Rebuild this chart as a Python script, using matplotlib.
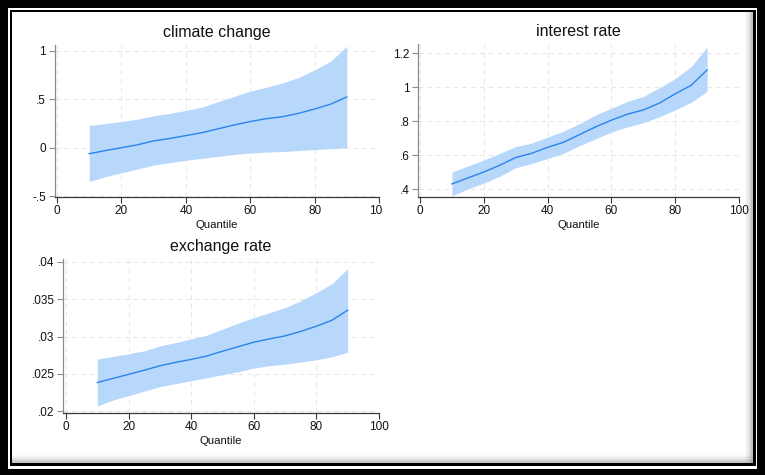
import matplotlib
matplotlib.use('Agg')
import matplotlib.pyplot as plt
from matplotlib.patches import Rectangle
from matplotlib.transforms import Bbox, TransformedBbox

plt.rcParams['font.family'] = ['Liberation Sans', 'DejaVu Sans']

# quantiles used for every panel
quantiles = [10, 15, 20, 25, 30, 35, 40, 45, 50, 55, 60, 65, 70, 75, 80, 85, 90]

# climate change
climate_mid = [-0.062, -0.03, 0.0, 0.03, 0.07, 0.095, 0.125, 0.155, 0.195, 0.235,
               0.27, 0.30, 0.32, 0.355, 0.40, 0.45, 0.525]
climate_hi = [0.23, 0.25, 0.27, 0.295, 0.33, 0.355, 0.385, 0.42, 0.475, 0.53,
              0.585, 0.625, 0.67, 0.725, 0.805, 0.895, 1.05]
climate_lo = [-0.35, -0.30, -0.26, -0.22, -0.18, -0.155, -0.13, -0.11, -0.09, -0.07,
              -0.055, -0.045, -0.04, -0.03, -0.02, -0.01, 0.0]

# interest rate
interest_mid = [0.43, 0.465, 0.50, 0.54, 0.585, 0.61, 0.645, 0.675, 0.72, 0.765,
                0.805, 0.84, 0.865, 0.905, 0.96, 1.01, 1.10]
interest_hi = [0.50, 0.535, 0.57, 0.61, 0.65, 0.67, 0.705, 0.74, 0.785, 0.835,
               0.875, 0.915, 0.945, 0.995, 1.05, 1.12, 1.235]
interest_lo = [0.36, 0.40, 0.435, 0.475, 0.525, 0.55, 0.58, 0.61, 0.655, 0.695,
               0.735, 0.765, 0.79, 0.825, 0.865, 0.91, 0.975]

# exchange rate
exchange_mid = [0.02385, 0.0244, 0.02495, 0.0255, 0.0261, 0.02655, 0.02695, 0.0274, 0.02805,
                0.02865, 0.02925, 0.0297, 0.0301, 0.0307, 0.0314, 0.0322, 0.03355]
exchange_hi = [0.0270, 0.02735, 0.0277, 0.0281, 0.02875, 0.0292, 0.0297, 0.0302, 0.0310,
               0.0318, 0.03255, 0.0332, 0.0339, 0.0348, 0.0359, 0.0371, 0.0391]
exchange_lo = [0.0207, 0.0215, 0.0221, 0.0227, 0.0233, 0.0237, 0.0241, 0.0245, 0.0249,
               0.0253, 0.0258, 0.0261, 0.0263, 0.0266, 0.0269, 0.0273, 0.0279]

x_ticks = [0, 20, 40, 60, 80, 100]
climate_ticks = [-0.5, 0, 0.5, 1]
climate_labels = ['-.5', '0', '.5', '1']
interest_ticks = [0.4, 0.6, 0.8, 1.0, 1.2]
interest_labels = ['.4', '.6', '.8', '1', '1.2']
exchange_ticks = [0.02, 0.025, 0.03, 0.035, 0.04]
exchange_labels = ['.02', '.025', '.03', '.035', '.04']

W, H = 765, 475
FILL = '#b7d7fb'
LINE = '#2a84ec'

fig = plt.figure(figsize=(W / 100, H / 100), dpi=100)
fig.patch.set_facecolor('black')


def px_rect(x0, y0, x1, y1, color, alpha=1.0, z=0):
    r = Rectangle((x0 / W, 1 - y1 / H), (x1 - x0) / W, (y1 - y0) / H,
                  transform=fig.transFigure, facecolor=color, edgecolor='none',
                  alpha=alpha, zorder=z)
    fig.add_artist(r)


# picture frame: white line, black line, white interior with soft shadow
px_rect(8, 8, 757, 469, 'white')
px_rect(9.5, 9.5, 755.5, 466, 'black')
px_rect(11.5, 11.5, 752.5, 463, 'white')
for i, a in enumerate([0.06, 0.1, 0.15, 0.22, 0.3, 0.4]):
    px_rect(745 + i * 1.2, 11.5, 752.5, 463, '#808080', alpha=a * 0.5)
    px_rect(11.5, 454 + i * 1.5, 752.5, 463, '#808080', alpha=a * 0.5)


def panel(box, xlim, ylim, mid, lo, hi, yticks, ylabels, title):
    x0, y0, x1, y1 = box
    ax = fig.add_axes([x0 / W, 1 - y1 / H, (x1 - x0) / W, (y1 - y0) / H])
    ax.set_facecolor('white')
    ax.fill_between(quantiles, lo, hi, color=FILL, linewidth=0, zorder=2)
    ax.plot(quantiles, mid, color=LINE, linewidth=1.0, zorder=3)
    ax.set_xlim(*xlim)
    ax.set_ylim(*ylim)
    ax.set_xticks(x_ticks)
    ax.set_yticks(yticks)
    ax.set_yticklabels(ylabels)
    ax.grid(True, linestyle=(0, (5, 4)), color='#e6e6e6', linewidth=0.7, zorder=1)
    ax.set_axisbelow(True)
    for s in ['top', 'right']:
        ax.spines[s].set_visible(False)
    ax.spines['left'].set_color('#8c8c8c')
    ax.spines['bottom'].set_color('#3a3a3a')
    ax.spines['left'].set_linewidth(0.9)
    ax.spines['bottom'].set_linewidth(0.9)
    ax.tick_params(axis='y', colors='#8c8c8c', labelcolor='#111111', length=4,
                   width=0.8, labelsize=8.5, pad=2)
    ax.tick_params(axis='x', colors='#3a3a3a', labelcolor='#111111', length=4,
                   width=0.8, labelsize=8.5, pad=2)
    ax.set_xlabel('Quantile', fontsize=8.2, labelpad=2, color='#111111')
    ax.set_title(title, fontsize=11.5, pad=6, color='#111111')
    return ax


ax1 = panel((54.5, 45, 379, 197), (-0.8, 100), (-0.51, 1.062),
            climate_mid, climate_lo, climate_hi, climate_ticks, climate_labels,
            'climate change')
ax2 = panel((418, 44, 739, 197), (-0.63, 100), (0.353, 1.253),
            interest_mid, interest_lo, interest_hi, interest_ticks, interest_labels,
            'interest rate')
ax3 = panel((63, 259, 379, 413), (-0.96, 100), (0.01977, 0.0404),
            exchange_mid, exchange_lo, exchange_hi, exchange_ticks, exchange_labels,
            'exchange rate')

# the first panel's "100" label is cut by its graph region in the original
clip = TransformedBbox(Bbox([[0, 0], [382 / W, 1]]), fig.transFigure)
for lab in ax1.get_xticklabels():
    lab.set_clip_on(True)
    lab.set_clip_box(clip)

fig.savefig('out.png', dpi=100, facecolor=fig.get_facecolor())
